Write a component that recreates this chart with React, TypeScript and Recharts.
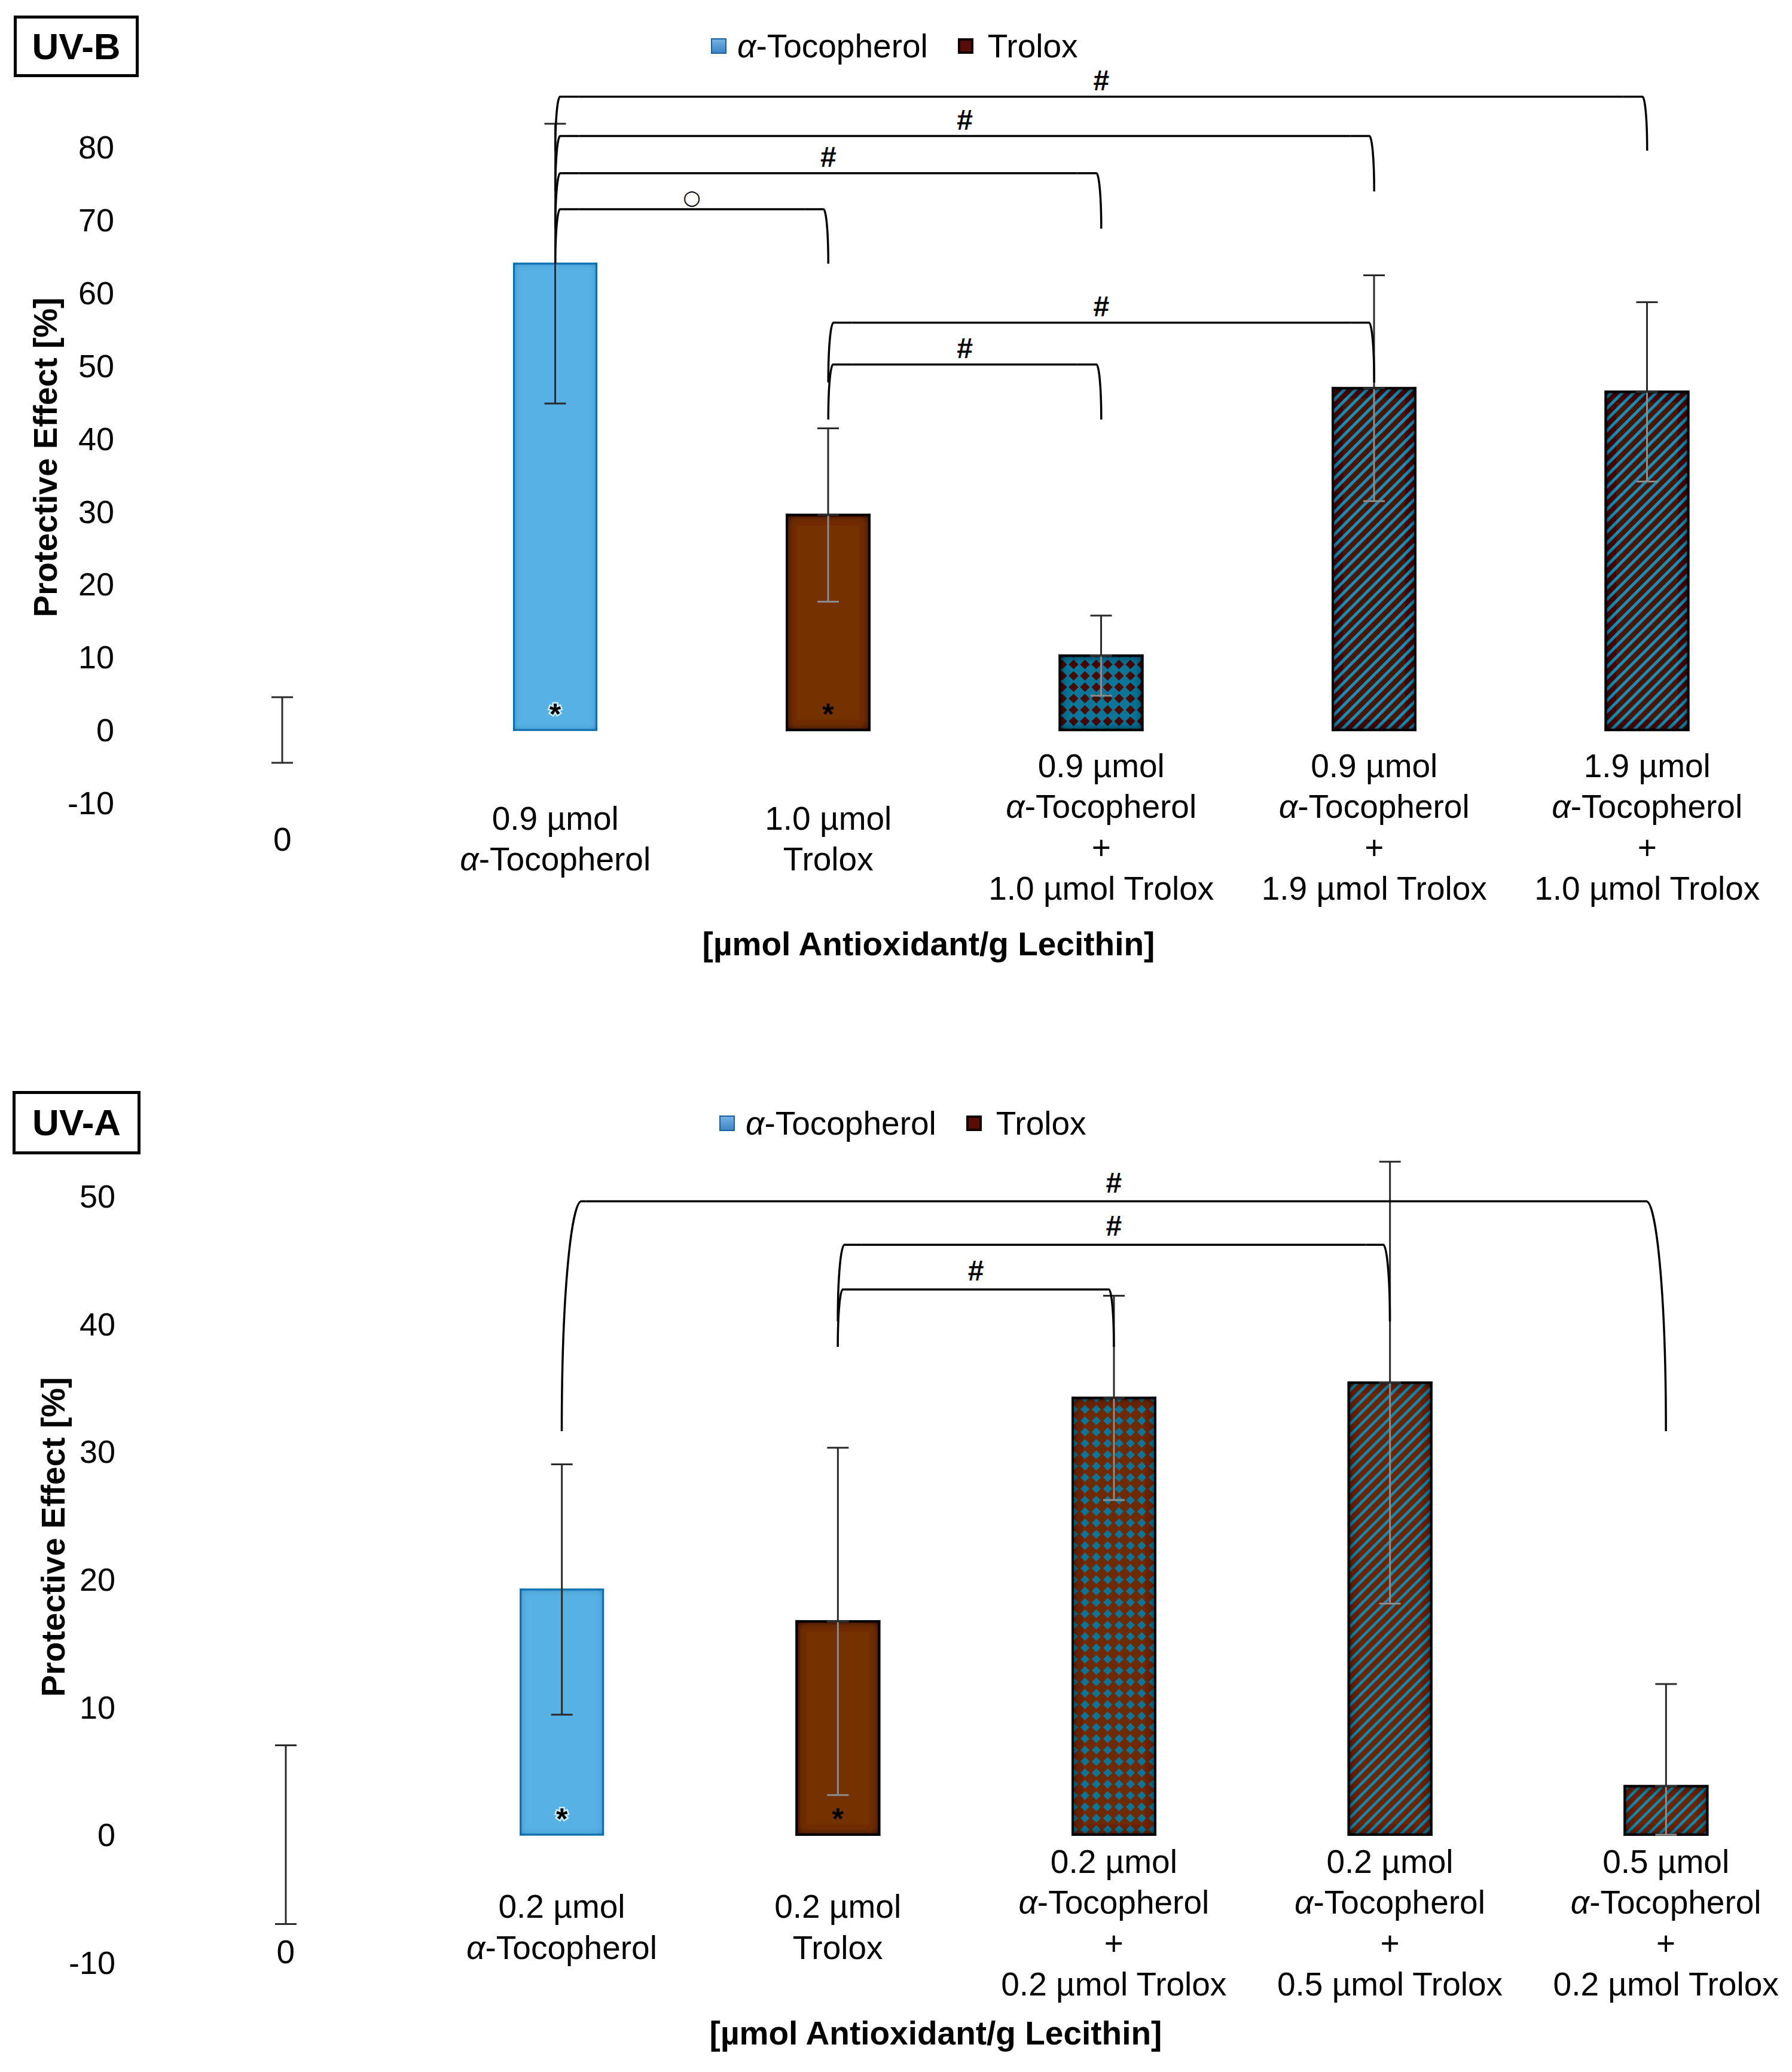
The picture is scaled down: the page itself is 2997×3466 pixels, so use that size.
import React from 'react';
import { BarChart, Bar, XAxis, YAxis, ErrorBar, ReferenceLine, Legend } from 'recharts';

const FONT = "'Liberation Sans', Arial, Helvetica, sans-serif";

// ---------- UV-B ----------
const uvbCategories = [
  '0',
  '0.9 µmol\nα-Tocopherol',
  '1.0 µmol\nTrolox',
  '0.9 µmol\nα-Tocopherol\n+\n1.0 µmol Trolox',
  '0.9 µmol\nα-Tocopherol\n+\n1.9 µmol Trolox',
  '1.9 µmol\nα-Tocopherol\n+\n1.0 µmol Trolox',
];
const uvbValues = [0, 64.0, 29.5, 10.2, 46.9, 46.4];
const uvbErrLow = [4.5, 19.2, 11.9, 5.5, 15.5, 12.3];
const uvbErrHigh = [4.5, 19.2, 11.9, 5.5, 15.5, 12.3];
const uvbStars = ['', '*', '*', '', '', ''];
// [from, to, bracket level, end level, mark]
const uvbBrackets: [number, number, number, number, string][] = [
  [1, 2, 71.45, 64.0, '○'],
  [1, 3, 76.4, 68.8, '#'],
  [1, 4, 81.5, 73.9, '#'],
  [1, 5, 86.9, 79.5, '#'],
  [2, 3, 50.15, 42.6, '#'],
  [2, 4, 55.9, 47.7, '#'],
];
const uvbTicks = [-10, 0, 10, 20, 30, 40, 50, 60, 70, 80];

// ---------- UV-A ----------
const uvaCategories = [
  '0',
  '0.2 µmol\nα-Tocopherol',
  '0.2 µmol\nTrolox',
  '0.2 µmol\nα-Tocopherol\n+\n0.2 µmol Trolox',
  '0.2 µmol\nα-Tocopherol\n+\n0.5 µmol Trolox',
  '0.5 µmol\nα-Tocopherol\n+\n0.2 µmol Trolox',
];
const uvaValues = [0, 19.2, 16.7, 34.2, 35.4, 3.8];
const uvaErrLow = [7.0, 9.8, 13.6, 8.0, 17.3, 3.8];
const uvaErrHigh = [7.0, 9.8, 13.6, 8.0, 17.3, 8.0];
const uvaStars = ['', '*', '*', '', '', ''];
const uvaBrackets: [number, number, number, number, string][] = [
  [1, 5, 49.6, 31.6, '#'],
  [2, 4, 46.2, 40.2, '#'],
  [2, 3, 42.7, 38.2, '#'],
];
const uvaTicks = [-10, 0, 10, 20, 30, 40, 50];

// ---------- styles ----------
const uvbBarStyles = ['none', 'alpha', 'trolox', 'checkerBlue', 'stripeDark', 'stripeDark'];
const uvaBarStyles = ['none', 'alpha', 'trolox', 'checkerBrown', 'stripeBrown', 'stripeBrown'];

const BAR_SPECS: Record<string, { fill: string; stroke: string; sw: number; filter: string }> = {
  alpha: { fill: '#58B1E4', stroke: '#1371B3', sw: 3, filter: 'url(#glowBlue)' },
  trolox: { fill: '#733000', stroke: '#080200', sw: 4, filter: 'url(#shadowDark)' },
  checkerBlue: { fill: 'url(#patCheckerBlue)', stroke: '#05050c', sw: 4, filter: 'url(#shadowDark)' },
  checkerBrown: { fill: 'url(#patCheckerBrown)', stroke: '#05050c', sw: 4, filter: 'url(#shadowDark)' },
  stripeDark: { fill: 'url(#patStripeDark)', stroke: '#05050c', sw: 4, filter: 'url(#shadowDark)' },
  stripeBrown: { fill: 'url(#patStripeBrown)', stroke: '#05050c', sw: 4, filter: 'url(#shadowDark)' },
};

const LINE_H = 68.5;
const K = 40;
const BRACKET_W = 3.5;

function buildRows(cats: string[], vals: number[], lo: number[], hi: number[], stars: string[], styles: string[]) {
  return cats.map((name, i) => {
    const light = !(styles[i] === 'none' || styles[i] === 'alpha');
    return {
      name,
      value: vals[i],
      errDark: light ? [0, hi[i]] : [lo[i], hi[i]],
      errLight: light ? [lo[i], 0] : null,
      star: stars[i],
    };
  });
}

const uvbRows = buildRows(uvbCategories, uvbValues, uvbErrLow, uvbErrHigh, uvbStars, uvbBarStyles);
const uvaRows = buildRows(uvaCategories, uvaValues, uvaErrLow, uvaErrHigh, uvaStars, uvaBarStyles);

function renderLine(text: string) {
  const parts = text.split('α');
  if (parts.length === 1) return text;
  const out: any[] = [];
  parts.forEach((s, i) => {
    if (i > 0) out.push(<tspan key={'a' + i} fontStyle="italic">α</tspan>);
    if (s) out.push(<tspan key={'t' + i}>{s}</tspan>);
  });
  return out;
}

const makeXTick = (offs: Record<number, number>) => (p: any) => {
  const { x, y, payload } = p;
  const lines = String(payload.value).split('\n');
  const first = y + (offs[lines.length] ?? 0);
  return (
    <g>
      {lines.map((l, i) => (
        <text key={i} x={x} y={first + i * LINE_H} dy="0.36em" textAnchor="middle" fontSize={55} fontFamily={FONT} fill="#000">
          {renderLine(l)}
        </text>
      ))}
    </g>
  );
};

const makeBarShape = (cats: string[], styles: string[]) => (props: any) => {
  const { x, y, width, height } = props;
  const name = props.payload?.name ?? props.name;
  let idx = cats.indexOf(name);
  if (idx < 0) idx = props.index;
  const st = styles[idx];
  if (!st || st === 'none' || !(height > 0)) return <g />;
  const spec = BAR_SPECS[st];
  const star = props.payload?.star;
  return (
    <g>
      <rect x={x} y={y} width={width} height={height} fill={spec.fill} stroke={spec.stroke} strokeWidth={spec.sw} filter={spec.filter} />
      {star ? (
        <text x={x + width / 2} y={y + height - 9} textAnchor="middle" fontSize={50} fontWeight={700} fontFamily={FONT} fill="#000"
          stroke={st === 'alpha' ? '#c8ecff' : 'none'} strokeWidth={st === 'alpha' ? 5 : 0} paintOrder="stroke">
          {star}
        </text>
      ) : null}
    </g>
  );
};

function hShape(mark: string, markOffset: number) {
  return (p: any) => {
    const x1 = Math.min(p.x1, p.x2);
    const x2 = Math.max(p.x1, p.x2);
    const y = p.y1;
    const cx = (x1 + x2) / 2;
    const markEl =
      mark === '○' ? (
        <text x={cx} y={y - markOffset + 3} textAnchor="middle" fontSize={34} fontFamily="'DejaVu Sans', sans-serif" fill="#000">○</text>
      ) : (
        <text x={cx} y={y - markOffset} textAnchor="middle" fontSize={48} fontWeight={700} fontFamily={FONT} fill="#000">{mark}</text>
      );
    return (
      <g>
        <path d={`M${x1 + K},${y}L${x2 - K},${y}`} stroke="#000" strokeWidth={BRACKET_W} fill="none" />
        {markEl}
      </g>
    );
  };
}

function vShape(side: number) {
  return (p: any) => {
    const x = p.x1;
    const yTop = Math.min(p.y1, p.y2);
    const yBot = Math.max(p.y1, p.y2);
    const h = yBot - yTop;
    const k = Math.min(K - 2, Math.max(5, 0.085 * h));
    const d = `M${x + side * K},${yTop}L${x + side * k},${yTop}C${x + side * k * 0.55},${yTop} ${x},${yTop + 0.35 * h} ${x},${yBot}`;
    return <path d={d} stroke="#000" strokeWidth={BRACKET_W} fill="none" strokeLinejoin="round" />;
  };
}

function renderBrackets(brackets: [number, number, number, number, string][], cats: string[], markOffset: number, prefix: string) {
  const out: any[] = [];
  brackets.forEach(([a, b, level, end, mark], i) => {
    out.push(
      <ReferenceLine key={`${prefix}h${i}`} ifOverflow="visible"
        segment={[{ x: cats[a], y: level }, { x: cats[b], y: level }]} shape={hShape(mark, markOffset)} />
    );
    out.push(
      <ReferenceLine key={`${prefix}l${i}`} ifOverflow="visible"
        segment={[{ x: cats[a], y: level }, { x: cats[a], y: end }]} shape={vShape(1)} />
    );
    out.push(
      <ReferenceLine key={`${prefix}r${i}`} ifOverflow="visible"
        segment={[{ x: cats[b], y: level }, { x: cats[b], y: end }]} shape={vShape(-1)} />
    );
  });
  return out;
}

const LegendContent = () => (
  <div style={{ display: 'flex', alignItems: 'center', height: 60, fontFamily: FONT, fontSize: 55, color: '#000', lineHeight: 1, whiteSpace: 'nowrap' }}>
    <span style={{ display: 'inline-block', width: 26, height: 26, boxSizing: 'border-box', background: 'linear-gradient(#74b0e2,#3f86c6)', border: '2px solid #1c5f9c', marginRight: 18 }} />
    <span><i>α</i>-Tocopherol</span>
    <span style={{ display: 'inline-block', width: 26, height: 26, boxSizing: 'border-box', background: '#5a0c08', border: '4px solid #100200', marginLeft: 50, marginRight: 24 }} />
    <span>Trolox</span>
  </div>
);

const yTitle = (cx: number, cy: number) => () => (
  <text x={cx} y={cy} transform={`rotate(-90 ${cx} ${cy})`} textAnchor="middle" dominantBaseline="central"
    fontSize={55} fontWeight={700} fontFamily={FONT} fill="#000">
    Protective Effect [%]
  </text>
);

const xTitle = (cx: number, cy: number) => () => (
  <text x={cx} y={cy} dy="0.36em" textAnchor="middle" fontSize={55} fontWeight={700} fontFamily={FONT} fill="#000">
    [µmol Antioxidant/g Lecithin]
  </text>
);

const boxStyle = (left: number, top: number, w: number, h: number): React.CSSProperties => ({
  position: 'absolute', left, top, width: w, height: h, boxSizing: 'border-box', border: '5px solid #000',
  display: 'flex', alignItems: 'center', justifyContent: 'center', fontFamily: FONT, fontWeight: 700, fontSize: 62, background: '#fff', lineHeight: 1,
});

export default function App() {
  return (
    <div style={{ position: 'absolute', left: 0, top: 0, width: 2997, height: 3466, overflow: 'hidden', background: '#fff' }}>
      <svg width={0} height={0} style={{ position: 'absolute' }}>
        <defs>
          <pattern id="patCheckerBlue" patternUnits="userSpaceOnUse" width={19} height={19}>
            <rect width={19} height={19} fill="#0E7598" />
            <polygon points="9.5,1.5 17.5,9.5 9.5,17.5 1.5,9.5" fill="#4A0D02" />
          </pattern>
          <pattern id="patCheckerBrown" patternUnits="userSpaceOnUse" width={19} height={19}>
            <rect width={19} height={19} fill="#6E2A05" />
            <polygon points="9.5,2 17,9.5 9.5,17 2,9.5" fill="#0E7598" />
          </pattern>
          <pattern id="patStripeDark" patternUnits="userSpaceOnUse" width={13.3} height={13.3} patternTransform="rotate(45)">
            <rect width={13.3} height={13.3} fill="#4A1204" />
            <rect width={5} height={13.3} fill="#1A8DB6" />
          </pattern>
          <pattern id="patStripeBrown" patternUnits="userSpaceOnUse" width={13.3} height={13.3} patternTransform="rotate(45)">
            <rect width={13.3} height={13.3} fill="#6A2806" />
            <rect width={4.6} height={13.3} fill="#1487AE" />
          </pattern>
          <filter id="shadowDark" x="-50%" y="-50%" width="200%" height="200%">
            <feFlood floodColor="#000" result="flood" />
            <feComposite in="flood" in2="SourceAlpha" operator="out" result="outside" />
            <feGaussianBlur in="outside" stdDeviation="8" result="blur" />
            <feComposite in="blur" in2="SourceAlpha" operator="in" result="shadow" />
            <feMerge>
              <feMergeNode in="SourceGraphic" />
              <feMergeNode in="shadow" />
              <feMergeNode in="shadow" />
            </feMerge>
          </filter>
          <filter id="glowBlue" x="-50%" y="-50%" width="200%" height="200%">
            <feFlood floodColor="#0b6aa8" result="flood" />
            <feComposite in="flood" in2="SourceAlpha" operator="out" result="outside" />
            <feGaussianBlur in="outside" stdDeviation="6" result="blur" />
            <feComposite in="blur" in2="SourceAlpha" operator="in" result="shadow" />
            <feMerge>
              <feMergeNode in="SourceGraphic" />
              <feMergeNode in="shadow" />
            </feMerge>
          </filter>
        </defs>
      </svg>

      {/* UV-B chart */}
      <div style={{ position: 'absolute', left: 0, top: 0 }}>
        <BarChart width={2997} height={1700} data={uvbRows} margin={{ top: 124, right: 14, bottom: 57, left: 0 }}>
          <XAxis dataKey="name" interval={0} axisLine={false} tickLine={false} tickSize={0} tickMargin={0} height={300}
            tick={makeXTick({ 1: 60, 2: 25, 4: -63 })} label={{ content: xTitle(1553, 1578) }} />
          <YAxis width={244} domain={[-10, 90]} ticks={uvbTicks} allowDataOverflow axisLine={false} tickLine={false} tickSize={0} tickMargin={53}
            tick={{ fontSize: 54, fill: '#000', fontFamily: FONT }} interval={0} label={{ content: yTitle(76, 765) }} />
          <Legend layout="vertical" align="center" verticalAlign="middle" content={<LegendContent />}
            wrapperStyle={{ left: 1189, top: 47, width: 800, height: 60 }} />
          <Bar dataKey="value" barSize={138} isAnimationActive={false} shape={makeBarShape(uvbCategories, uvbBarStyles)}>
            <ErrorBar dataKey="errLight" direction="y" width={18} strokeWidth={3} stroke="#8c8c8c" isAnimationActive={false} />
            <ErrorBar dataKey="errDark" direction="y" width={18} strokeWidth={3} stroke="#2a2a2a" isAnimationActive={false} />
          </Bar>
          {renderBrackets(uvbBrackets, uvbCategories, 11, 'b')}
        </BarChart>
      </div>

      {/* UV-A chart */}
      <div style={{ position: 'absolute', left: 0, top: 1740 }}>
        <BarChart width={3030} height={1726} data={uvaRows} margin={{ top: 47.4, right: 13, bottom: 0, left: 0 }}>
          <XAxis dataKey="name" interval={0} axisLine={false} tickLine={false} tickSize={0} tickMargin={0} height={183.4}
            tick={makeXTick({ 1: -18.6, 2: -94, 4: -169.6 })} label={{ content: xTitle(1565, 1660) }} />
          <YAxis width={247} domain={[-10, 60]} ticks={uvaTicks} allowDataOverflow axisLine={false} tickLine={false} tickSize={0} tickMargin={54}
            tick={{ fontSize: 54, fill: '#000', fontFamily: FONT }} interval={0} label={{ content: yTitle(89, 831) }} />
          <Legend layout="vertical" align="center" verticalAlign="middle" content={<LegendContent />}
            wrapperStyle={{ left: 1203, top: 109, width: 800, height: 60 }} />
          <Bar dataKey="value" barSize={138} isAnimationActive={false} shape={makeBarShape(uvaCategories, uvaBarStyles)}>
            <ErrorBar dataKey="errLight" direction="y" width={18} strokeWidth={3} stroke="#8c8c8c" isAnimationActive={false} />
            <ErrorBar dataKey="errDark" direction="y" width={18} strokeWidth={3} stroke="#2a2a2a" isAnimationActive={false} />
          </Bar>
          {renderBrackets(uvaBrackets, uvaCategories, 15, 'a')}
        </BarChart>
      </div>

      <div style={boxStyle(23, 26, 209, 103)}>UV-B</div>
      <div style={boxStyle(21, 1825, 214, 106)}>UV-A</div>
    </div>
  );
}
